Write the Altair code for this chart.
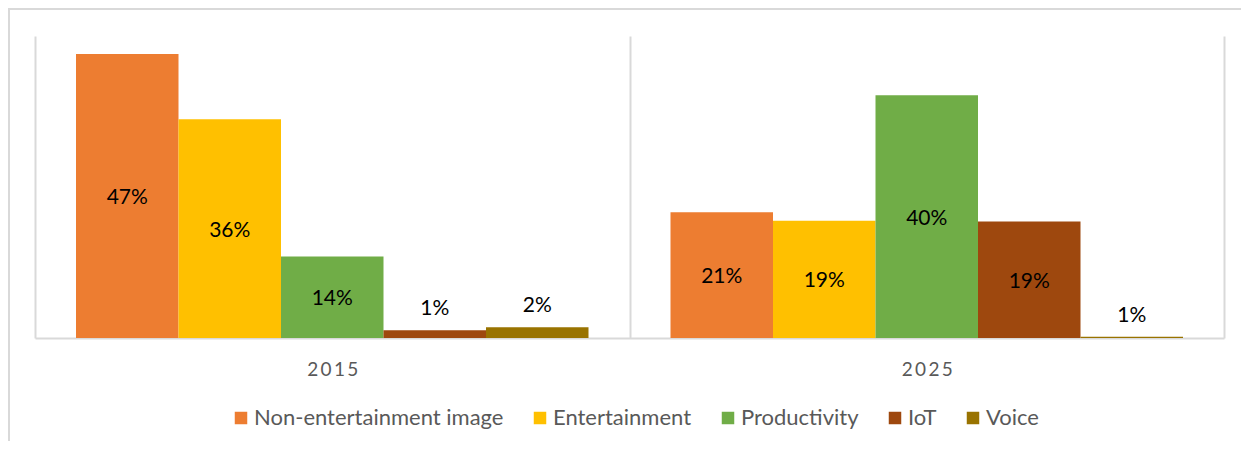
import altair as alt
import pandas as pd

years = ["2015", "2025"]
categories = ["Non-entertainment image", "Entertainment", "Productivity", "IoT", "Voice"]
colors = ["#ED7D31", "#FFC000", "#70AD47", "#9E480E", "#997300"]
values_2015 = [47.0, 36.2, 13.5, 1.3, 1.8]
values_2025 = [20.8, 19.4, 40.2, 19.3, 0.2]
labels_2015 = ["47%", "36%", "14%", "1%", "2%"]
labels_2025 = ["21%", "19%", "40%", "19%", "1%"]

rows = []
for yr, vals, labs in [("2015", values_2015, labels_2015), ("2025", values_2025, labels_2025)]:
    for c, v, l in zip(categories, vals, labs):
        rows.append({"year": yr, "category": c, "value": v, "label": l})
df = pd.DataFrame(rows)

FONT = "Lato"
GRID = "#d9d9d9"

x_enc = alt.X(
    "year:N",
    sort=years,
    title=None,
    scale=alt.Scale(paddingInner=0, paddingOuter=0),
    axis=alt.Axis(
        grid=True,
        gridColor=GRID,
        gridWidth=2,
        tickBand="extent",
        ticks=False,
        tickSize=0,
        domainColor=GRID,
        domainWidth=2,
        labelAngle=0,
        labelFont=FONT,
        labelFontSize=19,
        labelColor="#595959",
        labelPadding=22,
        labelExpr="join(split(datum.label, ''), '\u2009')",
    ),
)
xoff = alt.XOffset("category:N", sort=categories, scale=alt.Scale(paddingInner=0, paddingOuter=0.4))
y_enc = alt.Y("value:Q", axis=None, scale=alt.Scale(domain=[0, 50]))

base = alt.Chart(df)

frame = alt.Chart(pd.DataFrame({"a": [0]})).mark_rect(
    filled=False, stroke=GRID, strokeWidth=2
).encode(
    x=alt.value(-26), x2=alt.value(1400), y=alt.value(-27), y2=alt.value(1000)
)

bars = base.mark_bar().encode(
    x=x_enc,
    xOffset=xoff,
    y=y_enc,
    color=alt.Color(
        "category:N",
        sort=categories,
        scale=alt.Scale(domain=categories, range=colors),
        legend=alt.Legend(
            title=None,
            orient="none",
            direction="horizontal",
            legendX=195,
            legendY=371,
            symbolType="square",
            symbolSize=156,
            symbolStrokeWidth=0,
            labelFont=FONT,
            labelFontSize=22,
            labelColor="#595959",
            labelLimit=0,
            columnPadding=25,
            labelOffset=2,
            columns=5,
        ),
    ),
)

inner = base.transform_filter("datum.value >= 5").transform_calculate(
    mid="datum.value / 2"
).mark_text(font=FONT, fontSize=21, color="#000000", baseline="middle", dy=2).encode(
    x=alt.X("year:N", sort=years),
    xOffset=xoff,
    y=alt.Y("mid:Q"),
    text="label:N",
)

outer = base.transform_filter("datum.value < 5").mark_text(
    font=FONT, fontSize=21, color="#000000", baseline="alphabetic", dy=-15
).encode(
    x=alt.X("year:N", sort=years),
    xOffset=xoff,
    y=alt.Y("value:Q"),
    text="label:N",
)

chart = alt.layer(frame, bars, inner, outer).properties(
    width=1189,
    height=302,
    autosize=alt.AutoSizeParams(type="none"),
    padding={"left": 27, "top": 28, "right": 17, "bottom": 103},
).configure_view(stroke=None)

chart.save("out.html", embed_options={"renderer": "svg", "actions": False})
